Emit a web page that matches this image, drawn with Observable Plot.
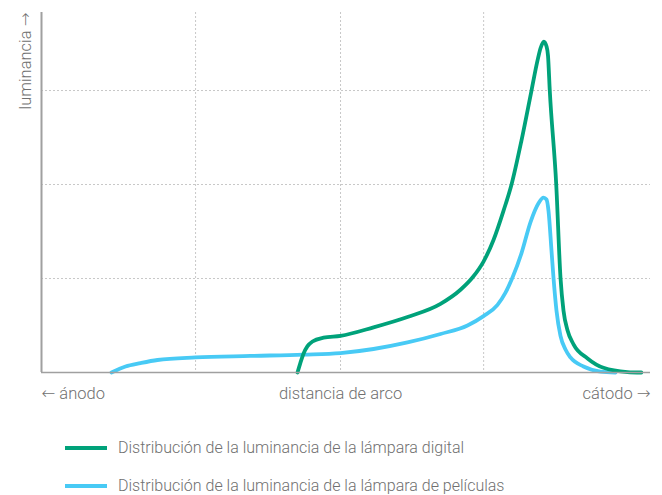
<!DOCTYPE html>
<html>
<head>
<meta charset="utf-8">
<script src="https://cdn.jsdelivr.net/npm/d3@7"></script>
<script src="https://cdn.jsdelivr.net/npm/@observablehq/plot@0.6"></script>
<style>
  body { margin: 0; background: #fff; font-family: Roboto, "Liberation Sans", sans-serif; }
  #legend { position: relative; height: 85px; }
  .item { position: absolute; left: 65px; display: flex; align-items: center; font-size: 16px; font-weight: 300; color: #707070; line-height: 18px; }
  .swatch { width: 42px; height: 4px; margin-right: 11px; }
  .arrow { font-family: "DejaVu Sans", sans-serif; font-weight: 200; }
</style>
</head>
<body>
<div id="chart"></div>
<div id="legend"></div>
<script>
// Arc distance (0 = anode, 100 = cathode) and luminance (relative units)
const digitalX = [42.04, 42.5, 43.02, 43.68, 44.5, 46.31, 49.10, 54.52, 60.10, 65.52, 68.80, 70.77, 72.58, 74.22, 75.86, 77.18, 78.82, 80.46, 81.45, 81.94, 82.49, 82.92, 83.17, 83.46, 84.52, 85.22, 85.71, 86.37, 87.36, 89.66, 92.28, 96.22, 98.5];
const digitalY = [0, 0.10, 0.20, 0.28, 0.33, 0.37, 0.39, 0.48, 0.59, 0.73, 0.88, 1.01, 1.18, 1.41, 1.72, 2.00, 2.47, 3.00, 3.32, 3.45, 3.52, 3.47, 3.37, 3.00, 2.00, 1.01, 0.66, 0.45, 0.30, 0.15, 0.05, 0.005, 0];

const filmX = [11.49, 13.79, 16.26, 19.05, 25.29, 34.32, 43.02, 49.10, 54.52, 60.10, 65.52, 69.95, 72.58, 74.88, 76.19, 77.34, 78.82, 80.30, 81.61, 82.43, 82.92, 83.25, 83.74, 84.07, 84.56, 85.22, 86.04, 86.86, 89.00, 91.79, 94.25];
const filmY = [0, 0.064, 0.10, 0.133, 0.16, 0.176, 0.19, 0.207, 0.25, 0.32, 0.41, 0.50, 0.60, 0.72, 0.85, 1.01, 1.27, 1.60, 1.80, 1.86, 1.84, 1.72, 1.30, 1.01, 0.66, 0.39, 0.245, 0.16, 0.064, 0.01, 0];

const xGrid = [25.3, 49.1, 72.6];
const yGrid = [1, 2, 3];
const bottomLabels = ["← ánodo", "distancia de arco", "cátodo →"];
const bottomLabelX = [0, 49.1, 100];
const yLabel = "luminancia →";
const seriesNames = ["Distribución de la luminancia de la lámpara digital", "Distribución de la luminancia de la lámpara de películas"];
const seriesColors = ["#00a27a", "#48caf5"];

const digital = digitalX.map((x, i) => ({x, y: digitalY[i]}));
const film = filmX.map((x, i) => ({x, y: filmY[i]}));
const labels = bottomLabels.map((t, i) => ({t, x: bottomLabelX[i], a: i === 0 ? "start" : i === 1 ? "middle" : "end"}));
const txt = {fill: "#707070", fontSize: 16.5, fontWeight: 300};

const chart = Plot.plot({
  width: 662,
  height: 410,
  marginLeft: 41,
  marginRight: 12,
  marginTop: 12,
  marginBottom: 38,
  x: {domain: [0, 100], axis: null},
  y: {domain: [0, 3.83], axis: null},
  style: {fontFamily: "Roboto, 'Liberation Sans', sans-serif"},
  marks: [
    Plot.ruleX(xGrid, {stroke: "#c8c8c8", strokeDasharray: "2,2", strokeWidth: 1}),
    Plot.ruleY(yGrid, {stroke: "#c8c8c8", strokeDasharray: "2,2", strokeWidth: 1}),
    Plot.line(film, {x: "x", y: "y", stroke: seriesColors[1], strokeWidth: 3.8, curve: "monotone-x"}),
    Plot.line(digital, {x: "x", y: "y", stroke: seriesColors[0], strokeWidth: 3.8, curve: "monotone-x"}),
    Plot.ruleX([0], {stroke: "#a0a0a0", strokeWidth: 2}),
    Plot.ruleY([0], {stroke: "#a0a0a0", strokeWidth: 1.5}),
    Plot.text(labels.filter(d => d.a === "start"), {x: "x", text: "t", frameAnchor: "bottom", dy: 26, textAnchor: "start", ...txt}),
    Plot.text(labels.filter(d => d.a === "middle"), {x: "x", text: "t", frameAnchor: "bottom", dy: 26, textAnchor: "middle", ...txt}),
    Plot.text(labels.filter(d => d.a === "end"), {x: "x", text: "t", frameAnchor: "bottom", dy: 26, textAnchor: "end", ...txt}),
    Plot.text([yLabel], {frameAnchor: "top-left", dx: -22, rotate: -90, textAnchor: "end", ...txt})
  ]
});
// render arrow glyphs in a font that has full-size arrows
chart.querySelectorAll("text").forEach(el => {
  const s = el.textContent;
  if (!/[←→]/.test(s)) return;
  el.textContent = "";
  s.split(/([←→])/).forEach(part => {
    if (!part) return;
    const ts = document.createElementNS("http://www.w3.org/2000/svg", "tspan");
    if (part === "←" || part === "→") ts.setAttribute("class", "arrow");
    ts.textContent = part;
    el.appendChild(ts);
  });
});
document.getElementById("chart").appendChild(chart);

const legend = document.getElementById("legend");
seriesNames.forEach((name, i) => {
  const item = document.createElement("div");
  item.className = "item";
  item.style.top = (i === 0 ? 28.5 : 67) + "px";
  const sw = document.createElement("div");
  sw.className = "swatch";
  sw.style.background = seriesColors[i];
  const tx = document.createElement("span");
  tx.textContent = name;
  item.appendChild(sw);
  item.appendChild(tx);
  legend.appendChild(item);
});
</script>
</body>
</html>
